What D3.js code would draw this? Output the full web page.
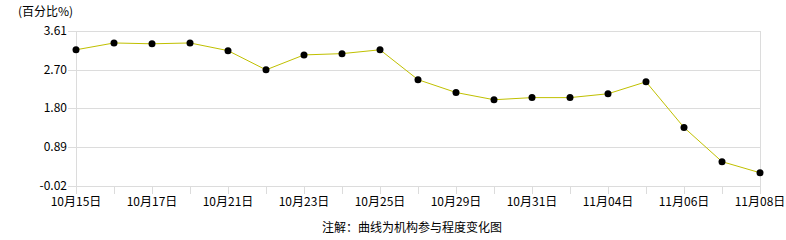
<!DOCTYPE html>
<html>
<head>
<meta charset="utf-8">
<script src="https://cdn.jsdelivr.net/npm/d3@7"></script>
<style>
body{margin:0;background:#fff;}
text{font-family:"Noto Sans CJK SC",sans-serif;font-size:12px;fill:#000;}
</style>
</head>
<body>
<script>
var dates = ["10月15日","10月16日","10月17日","10月18日","10月21日","10月22日","10月23日","10月24日","10月25日","10月28日",
             "10月29日","10月30日","10月31日","11月01日","11月04日","11月05日","11月06日","11月07日","11月08日"];
var values = [3.17,3.33,3.31,3.33,3.15,2.70,3.05,3.08,3.17,2.47,2.17,2.00,2.05,2.05,2.14,2.42,1.35,0.55,0.29];
var yTicks = [-0.02,0.89,1.80,2.70,3.61];

var width = 786, height = 240;
var plotLeft = 76, plotRight = 760, plotTop = 31, plotBottom = 186;

var svg = d3.select('body').append('svg')
            .attr('width',width)
            .attr('height',height);

var x = d3.scalePoint()
          .domain(d3.range(dates.length))
          .range([plotLeft,plotRight]);
var y = d3.scaleLinear()
          .domain([-0.02,3.61])
          .range([plotBottom,plotTop]);

// grid
svg.append('g').selectAll('line').data(yTicks).enter().append('line')
   .attr('x1',plotLeft-8).attr('x2',plotRight)
   .attr('y1',function(d){return Math.round(y(d))+0.5;}).attr('y2',function(d){return Math.round(y(d))+0.5;})
   .style('stroke','#dcdcdc');

svg.append('line').attr('x1',plotLeft+0.5).attr('x2',plotLeft+0.5).attr('y1',plotTop).attr('y2',plotBottom+8).style('stroke','#dcdcdc');
svg.append('line').attr('x1',plotRight+0.5).attr('x2',plotRight+0.5).attr('y1',plotTop).attr('y2',plotBottom+8).style('stroke','#dcdcdc');

// x ticks
svg.append('g').selectAll('line').data(d3.range(dates.length)).enter().append('line')
   .attr('x1',function(d){return Math.round(x(d))+0.5;}).attr('x2',function(d){return Math.round(x(d))+0.5;})
   .attr('y1',plotBottom).attr('y2',plotBottom+8)
   .style('stroke','#dcdcdc');

// y labels
svg.append('g').selectAll('text').data(yTicks).enter().append('text')
   .attr('x',plotLeft-9).attr('y',function(d){return y(d)+4;})
   .attr('text-anchor','end')
   .text(function(d){return d.toFixed(2);});

// x labels
svg.append('g').selectAll('text').data(d3.range(0,dates.length,2)).enter().append('text')
   .attr('x',function(d){return x(d);}).attr('y',206)
   .attr('text-anchor','middle')
   .text(function(d){return dates[d];});

var line = d3.line()
             .x(function(d,i){return x(i);})
             .y(function(d){return y(d);});

svg.append('path').attr('d',line(values))
   .style('fill','none').style('stroke','#c0c000').style('stroke-width',1);

svg.append('g').selectAll('circle').data(values).enter().append('circle')
   .attr('cx',function(d,i){return x(i);}).attr('cy',function(d){return y(d);})
   .attr('r',3.5).style('fill','#000');

svg.append('text').attr('x',18).attr('y',16).text('(百分比%)');
svg.append('text').attr('x',412).attr('y',232).attr('text-anchor','middle').text('注解：曲线为机构参与程度变化图');
</script>
</body>
</html>
